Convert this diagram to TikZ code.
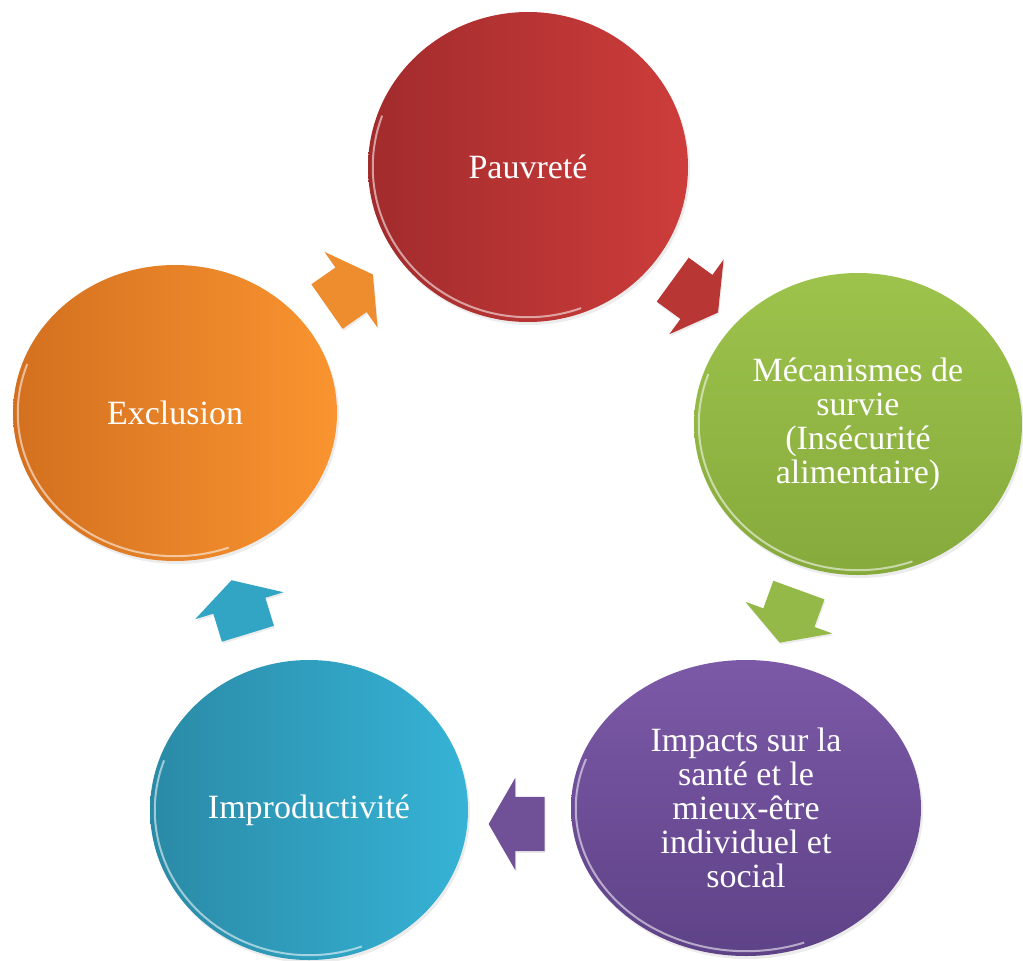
\documentclass[tikz,border=0pt]{standalone}
\usepackage{fontspec}
\setmainfont{Liberation Serif}
\usetikzlibrary{shapes.geometric, shapes.arrows, calc, shadows}

\definecolor{pvL}{HTML}{A22B2C}
\definecolor{pvR}{HTML}{CD3D3B}
\definecolor{msT}{HTML}{9DC34C}
\definecolor{msB}{HTML}{86AA3C}
\definecolor{isT}{HTML}{7C59A7}
\definecolor{isB}{HTML}{5E4287}
\definecolor{ipL}{HTML}{2A8AA6}
\definecolor{ipR}{HTML}{36B3D6}
\definecolor{exL}{HTML}{D3701F}
\definecolor{exR}{HTML}{FA9430}

\tikzset{
  bubble/.style={ellipse, inner sep=0pt, text=white, align=center,
    font=\fontsize{34}{34}\selectfont,
    drop shadow={shadow xshift=2pt, shadow yshift=-3pt, opacity=.15}},
  cyclearrow/.style={single arrow, inner xsep=0pt, inner ysep=27pt, minimum height=56pt,
    single arrow head extend=19pt, single arrow tip angle=120,
    drop shadow={shadow xshift=1pt, shadow yshift=-2pt, opacity=.15}},
  rim/.style={white, line width=2pt, opacity=.55}
}

\begin{document}
\begin{tikzpicture}[x=1pt, y=1pt]
\useasboundingbox (0,0) rectangle (1023,-961);

\node[bubble, minimum width=320pt, minimum height=310pt, left color=pvL, right color=pvR] (pv) at (528,-167) {Pauvreté};
\node[bubble, minimum width=328pt, minimum height=302pt, top color=msT, bottom color=msB] (ms) at (858,-424) {Mécanismes de\\survie\\(Insécurité\\alimentaire)};
\node[bubble, minimum width=350pt, minimum height=296pt, top color=isT, bottom color=isB] (is) at (746,-808) {Impacts sur la\\santé et le\\mieux-être\\individuel et\\social};
\node[bubble, minimum width=318pt, minimum height=300pt, left color=ipL, right color=ipR] (ip) at (309,-810) {Improductivité};
\node[bubble, minimum width=324pt, minimum height=296pt, left color=exL, right color=exR] (ex) at (175,-413) {Exclusion};

\foreach \b in {pv,ms,is,ip,ex}
  \draw[rim] let \p1=($(\b.east)-(\b.center)$), \p2=($(\b.north)-(\b.center)$) in
    ($(\b.center)+(160:{\x1-5pt} and {\y2-5pt})$) arc[start angle=160, end angle=290, x radius=\x1-5pt, y radius=\y2-5pt];

\node[cyclearrow, fill=pvR!90!black, rotate=-36] (a1) at ($(pv)!.5!(ms)+(-4,4)$) {};
\node[cyclearrow, fill=msT!95!black, rotate=-110] (a2) at ($(ms)!.5!(is)+(-10,7)$) {};
\node[cyclearrow, fill=isT!90!black, rotate=180] (a3) at ($(is)!.5!(ip)+(-3,-15)$) {};
\node[cyclearrow, fill=ipR!92!black, rotate=107] (a4) at ($(ip)!.5!(ex)+(0,-3)$) {};
\node[cyclearrow, fill=exR!95!black, rotate=35] (a5) at ($(ex)!.5!(pv)+(-8,-5)$) {};
\end{tikzpicture}
\end{document}
